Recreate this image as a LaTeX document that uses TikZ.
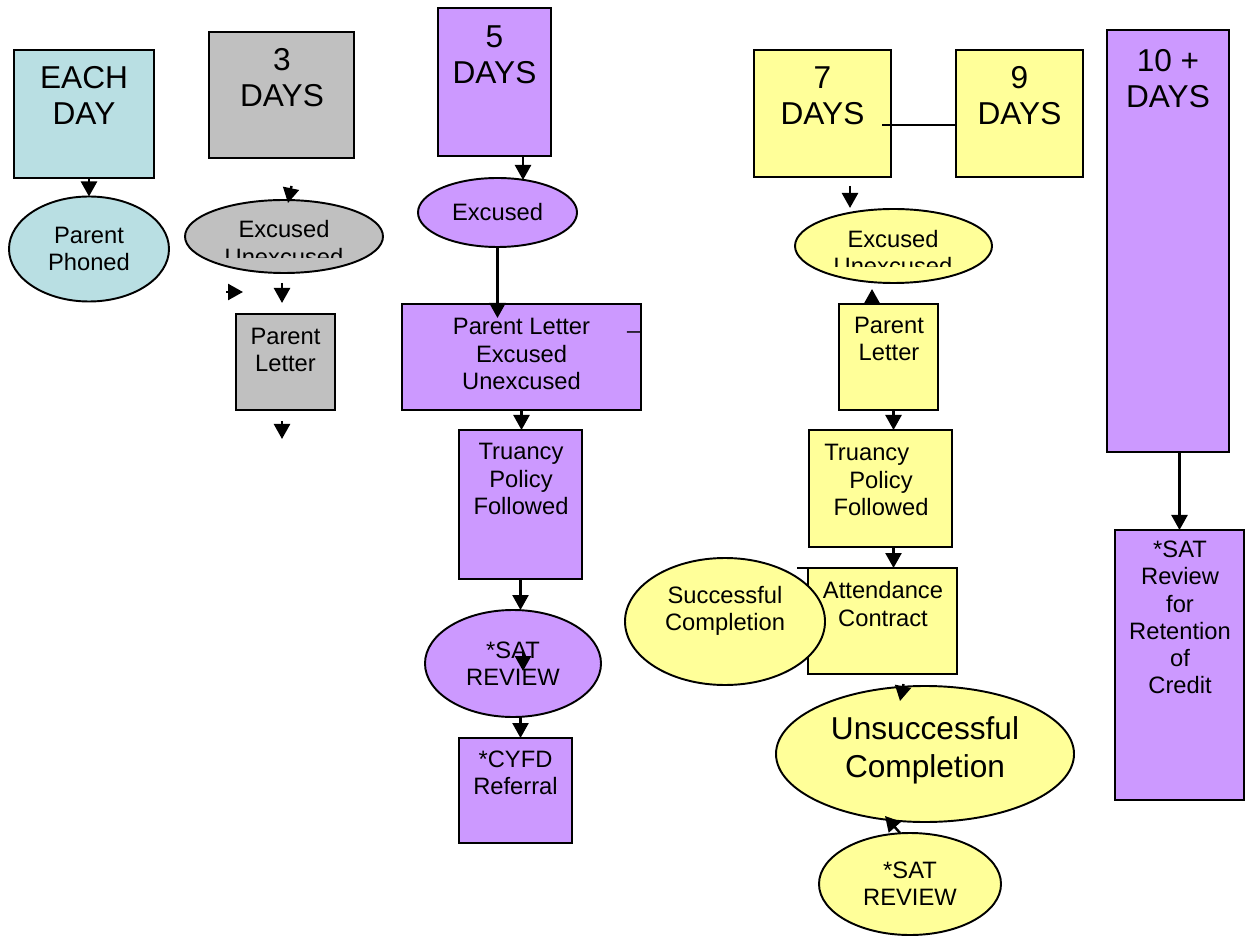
\documentclass[tikz,border=0pt]{standalone}
\usepackage{fontspec}
\setmainfont{Liberation Sans}
\usepackage{tikz}
\usetikzlibrary{shapes.geometric,arrows.meta}
\definecolor{cyanfill}{HTML}{B9DFE3}
\definecolor{grayfill}{HTML}{C0C0C0}
\definecolor{purplefill}{HTML}{CC99FF}
\definecolor{yellowfill}{HTML}{FFFF99}
\tikzset{
  box/.style={draw, line width=1.1pt, inner sep=0pt, outer sep=0pt},
  oval/.style={ellipse, draw, line width=1.1pt, inner sep=0pt, outer sep=0pt, align=center, font=\fontsize{13.5}{15.5}\selectfont},
  lab/.style={align=center, inner sep=0pt, font=\fontsize{13.5}{15.5}\selectfont},
  labb/.style={align=center, inner sep=0pt, font=\fontsize{18}{20.5}\selectfont},
  arr/.style={draw, line width=1.4pt, -{Triangle[length=3mm,width=3.2mm]}},
  line/.style={draw, line width=1.1pt},
}

\begin{document}
\begin{tikzpicture}[x=0.2mm, y=-0.2mm]
  \useasboundingbox (0,0) rectangle (1255,940);

  % each day
  \node[box, fill=cyanfill, minimum width=28mm, minimum height=25.6mm] (eachday) at (84,114) {};
  \node[labb] (eachdaytxt) at (84,95) {EACH\\DAY};
  \node[oval, fill=cyanfill, minimum width=32mm, minimum height=21mm] (phoned) at (89,249) {Parent\\Phoned};
  \draw[arr] (eachday.south -| phoned) -- (phoned.north);

  % 3 days
  \node[box, fill=grayfill, minimum width=29mm, minimum height=25.2mm] (days3) at (281.5,95) {};
  \node[labb] (days3txt) at (282,77.5) {3\\DAYS};
  \node[oval, fill=grayfill, minimum width=39.6mm, minimum height=14.6mm] (exc3) at (284,236.5) {};
  \begin{scope}
    \clip (185,200) rectangle (383,257.5);
    \node[lab] (exc3txt) at (284,243) {Excused\\Unexcused};
  \end{scope}
  \node[box, fill=grayfill, minimum width=19.8mm, minimum height=19.2mm] (letter3) at (285.5,362) {};
  \node[lab] (letter3txt) at (285.5,350) {Parent\\Letter};
  \coordinate (h3a) at (291.5,186); \coordinate (h3b) at (288,203);
  \draw[arr] (h3a) -- (h3b);
  \coordinate (h3c) at (226,292); \coordinate (h3d) at (243,292);
  \draw[arr] (h3c) -- (h3d);
  \coordinate (h3e) at (282,283); \coordinate (h3f) at (282,303);
  \draw[arr] (h3e) -- (h3f);
  \coordinate (h3g) at (282,421); \coordinate (h3h) at (282,439);
  \draw[arr] (h3g) -- (h3h);

  % 5 days
  \node[box, fill=purplefill, minimum width=22.6mm, minimum height=29.6mm] (days5) at (494.5,82) {};
  \node[labb] (days5txt) at (494.5,55) {5\\DAYS};
  \node[oval, fill=purplefill, minimum width=31.8mm, minimum height=13.8mm] (exc5) at (497.5,212.5) {Excused};
  \node[box, fill=purplefill, minimum width=47.8mm, minimum height=21.2mm] (letter5) at (521.5,357) {};
  \node[lab] (letter5txt) at (521.5,354) {Parent Letter\\Excused\\Unexcused};
  \node[lab] (mark5) at (634,331) {\_};
  \node[box, fill=purplefill, minimum width=24.6mm, minimum height=29.8mm] (truancy5) at (520.5,504.5) {};
  \node[lab] (truancy5txt) at (521,479) {Truancy\\Policy\\Followed};
  \node[oval, fill=purplefill, minimum width=35.2mm, minimum height=21.4mm] (sat5) at (513,663.5) {*SAT\\REVIEW};
  \node[box, fill=purplefill, minimum width=22.6mm, minimum height=21mm] (cyfd) at (515.5,790.5) {};
  \node[lab] (cyfdtxt) at (515.5,772.5) {*CYFD\\Referral};
  \draw[arr] ([xshift=5.7mm]days5.south) -- ++(0,24);
  \draw[arr] (exc5.south) -- ++(0,71);
  \draw[arr] (letter5.south) -- (letter5.south |- truancy5.north);
  \draw[arr] (truancy5.south) -- (truancy5.south |- sat5.north);
  \coordinate (s5a) at (523,650); \coordinate (s5b) at (523,671);
  \draw[arr] (s5a) -- (s5b);
  \draw[arr] (sat5.south -| truancy5) -- (cyfd.north -| truancy5);

  % 7 and 9 days
  \node[box, fill=yellowfill, minimum width=27.4mm, minimum height=25.4mm] (days7) at (822.5,113.5) {};
  \node[labb] (days7txt) at (822.5,95.5) {7\\DAYS};
  \node[box, fill=yellowfill, minimum width=25.4mm, minimum height=25.4mm] (days9) at (1019.5,113.5) {};
  \node[labb] (days9txt) at (1019.5,95.5) {9\\DAYS};
  \coordinate (c79) at (882,125);
  \draw[line] (c79) -- (c79 -| days9.west);

  \coordinate (h7a) at (850,186); \coordinate (h7b) at (850,208);
  \draw[arr] (h7a) -- (h7b);
  \node[oval, fill=yellowfill, minimum width=39.4mm, minimum height=14.8mm] (exc7) at (893.5,246) {};
  \begin{scope}
    \clip (795,209) rectangle (992,267);
    \node[lab] (exc7txt) at (893,252.5) {Excused\\Unexcused};
  \end{scope}
  \node[box, fill=yellowfill, minimum width=19.8mm, minimum height=21.2mm] (letter7) at (888.5,357) {};
  \node[lab] (letter7txt) at (889,339) {Parent\\Letter};
  \draw[arr] ([xshift=-3.3mm]letter7.north) -- ++(0,-15);
  \node[box, fill=yellowfill, minimum width=28.6mm, minimum height=23.4mm] (truancy7) at (880.5,488.5) {};
  \node[lab] (truancy7txt) at (881,480) {Truancy\hspace*{1.2em}\\Policy\\Followed};
  \draw[arr] (letter7.south -| exc7) -- (truancy7.north -| exc7);
  \node[box, fill=yellowfill, minimum width=29.8mm, minimum height=21.2mm] (contract) at (882.5,621) {};
  \node[lab] (contracttxt) at (883,604) {Attendance\\Contract};
  \draw[arr] (truancy7.south -| exc7) -- (contract.north -| exc7);
  \draw[line] (contract.north west) -- ++(-11,0);
  \node[oval, fill=yellowfill, minimum width=40mm, minimum height=25.4mm] (success) at (725,621.5) {};
  \node[lab] (successtxt) at (725,610.5) {Successful\\Completion};
  \node[oval, fill=yellowfill, minimum width=59.6mm, minimum height=27.2mm] (unsucc) at (925,754) {};
  \node[align=center, inner sep=0pt, font=\fontsize{18}{21.5}\selectfont] (unsucctxt) at (925,750) {Unsuccessful\\Completion};
  \coordinate (h8a) at (903.5,684); \coordinate (h8b) at (900,701);
  \draw[arr] (h8a) -- (h8b);
  \node[oval, fill=yellowfill, minimum width=36.4mm, minimum height=20.4mm] (sat7) at (910,884) {*SAT\\REVIEW};
  \draw[arr] ([xshift=-2mm]sat7.north) -- ++(-15,-17);

  % 10+ days
  \node[box, fill=purplefill, minimum width=24.4mm, minimum height=84.4mm] (days10) at (1168,241) {};
  \node[labb] (days10txt) at (1168,79) {10 +\\DAYS};
  \node[box, fill=purplefill, minimum width=25.8mm, minimum height=54mm] (retention) at (1179.5,665) {};
  \node[lab] (retentiontxt) at (1180,617.5) {*SAT\\Review\\for\\Retention\\of\\Credit};
  \draw[arr] (days10.south -| retention) -- (retention.north);
\end{tikzpicture}
\end{document}
